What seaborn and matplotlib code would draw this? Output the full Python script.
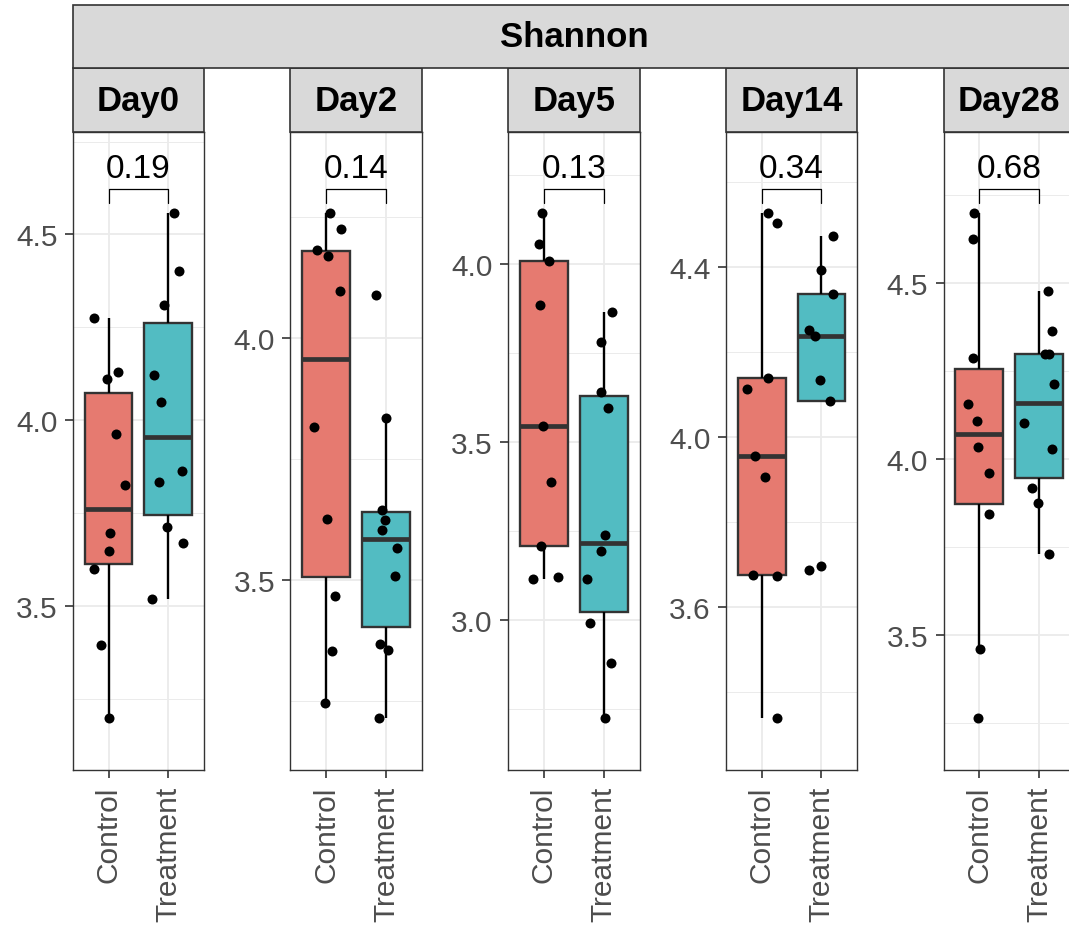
import numpy as np
import pandas as pd
import matplotlib
matplotlib.use("Agg")
import matplotlib.pyplot as plt
import matplotlib.transforms as mtransforms
from matplotlib.patches import Rectangle
from matplotlib.ticker import MultipleLocator
import seaborn as sns

# ---------------- data ----------------
days = ["Day0", "Day2", "Day5", "Day14", "Day28"]
groups = ["Control", "Treatment"]
p_values = ["0.19", "0.14", "0.13", "0.34", "0.68"]
metric = "Shannon"

day0_control = [4.276, 4.131, 4.111, 3.962, 3.826, 3.696, 3.648, 3.601, 3.396, 3.198]
day0_treatment = [4.557, 4.402, 4.309, 4.123, 4.048, 3.864, 3.834, 3.714, 3.670, 3.519]
day2_control = [4.257, 4.225, 4.182, 4.168, 4.096, 3.817, 3.626, 3.468, 3.353, 3.247]
day2_treatment = [4.088, 3.835, 3.645, 3.625, 3.603, 3.566, 3.508, 3.368, 3.355, 3.215]
day5_control = [4.143, 4.056, 4.008, 3.886, 3.546, 3.389, 3.209, 3.123, 3.116]
day5_treatment = [3.867, 3.783, 3.641, 3.597, 3.241, 3.195, 3.117, 2.994, 2.879, 2.725]
day14_control = [4.527, 4.505, 4.138, 4.113, 3.955, 3.905, 3.675, 3.672, 3.337]
day14_treatment = [4.473, 4.393, 4.337, 4.252, 4.237, 4.135, 4.084, 3.696, 3.686]
day28_control = [4.698, 4.624, 4.288, 4.157, 4.108, 4.034, 3.961, 3.844, 3.460, 3.263]
day28_treatment = [4.478, 4.363, 4.299, 4.297, 4.214, 4.102, 4.027, 3.918, 3.876, 3.729]

y_tick_steps = [0.5, 0.5, 0.5, 0.4, 0.5]

control_values = [day0_control, day2_control, day5_control, day14_control, day28_control]
treatment_values = [day0_treatment, day2_treatment, day5_treatment, day14_treatment, day28_treatment]

rows = []
for d, c, t in zip(days, control_values, treatment_values):
    rows += [(d, "Control", v) for v in c]
    rows += [(d, "Treatment", v) for v in t]
df = pd.DataFrame(rows, columns=["day", "group", "value"])

# ---------------- style ----------------
sns.set_theme(style="white")
plt.rcParams["font.family"] = ["Liberation Sans", "DejaVu Sans"]

palette = {"Control": "#E67A70", "Treatment": "#52BCC2"}
edge = "#333333"
grid_c = "#EBEBEB"

W, H = 1069, 928
fig = plt.figure(figsize=(W / 100, H / 100), dpi=100)

panel_left0 = 72.7
panel_step = 217.7
panel_w = 131.5
panel_top = 133
panel_bottom = 771
strip_top = 69
title_top = 6

np.random.seed(7)

for i, day in enumerate(days):
    left = panel_left0 + i * panel_step
    ax = fig.add_axes([left / W, (H - panel_bottom) / H, panel_w / W,
                       (panel_bottom - panel_top) / H])
    sub = df[df["day"] == day]

    sns.boxplot(data=sub, x="group", y="value", hue="group", order=groups,
                hue_order=groups, palette=palette, saturation=1, width=0.8,
                showfliers=False, linewidth=1.7, linecolor=edge, legend=False, ax=ax,
                whis=1.5,
                medianprops=dict(linewidth=3.4, color=edge),
                whiskerprops=dict(linewidth=1.7, color="black"),
                capprops=dict(visible=False), zorder=2)
    sns.stripplot(data=sub, x="group", y="value", order=groups, color="black",
                  jitter=0.28, size=7.2, ax=ax, zorder=3)

    vmin, vmax = sub["value"].min(), sub["value"].max()
    span = (vmax - vmin) / 0.7916
    lo = vmin - 0.081 * span
    ax.set_ylim(lo, lo + span)
    ax.set_xlim(-0.6, 1.6)

    step = y_tick_steps[i]
    ax.yaxis.set_major_locator(MultipleLocator(step))
    ax.yaxis.set_minor_locator(MultipleLocator(step / 2))
    ax.yaxis.set_major_formatter(matplotlib.ticker.FormatStrFormatter("%.1f"))

    ax.set_axisbelow(True)
    ax.grid(True, which="major", color=grid_c, linewidth=1.3)
    ax.grid(True, which="minor", axis="y", color=grid_c, linewidth=0.7)

    ax.set_xlabel("")
    ax.set_ylabel("")
    ax.tick_params(axis="both", which="major", length=6, width=1.2, color=edge,
                   labelsize=21.5, labelcolor="#4D4D4D", pad=5, left=True, bottom=True)
    ax.tick_params(axis="y", which="minor", length=0)
    ax.tick_params(axis="x", labelrotation=90)
    for s in ax.spines.values():
        s.set_color(edge)
        s.set_linewidth(1.0)
        s.set_visible(True)
    ax.set_facecolor("white")

    # p-value bracket
    trans = mtransforms.blended_transform_factory(ax.transData, ax.transAxes)
    ax.plot([0, 0, 1, 1], [0.889, 0.911, 0.911, 0.889], color="black",
            linewidth=0.9, transform=trans, clip_on=False, zorder=4)
    ax.text(0.5, 0.919, p_values[i], transform=trans, ha="center", va="bottom",
            fontsize=24, color="black")

    # day strip
    fig.patches.append(Rectangle((left / W, (H - panel_top) / H), panel_w / W,
                                 (panel_top - strip_top) / H, transform=fig.transFigure,
                                 facecolor="#D9D9D9", edgecolor=edge, linewidth=1.2))
    fig.text((left + panel_w / 2) / W, (H - (panel_top + strip_top) / 2) / H, day,
             ha="center", va="center", fontsize=25, fontweight="bold", color="black")

# top strip
right_edge = panel_left0 + 4 * panel_step + panel_w
fig.patches.append(Rectangle((panel_left0 / W, (H - strip_top) / H),
                             (right_edge - panel_left0) / W, (strip_top - title_top) / H,
                             transform=fig.transFigure, facecolor="#D9D9D9",
                             edgecolor=edge, linewidth=1.2))
fig.text(((panel_left0 + right_edge) / 2) / W, (H - (strip_top + title_top) / 2) / H,
         metric, ha="center", va="center", fontsize=25, fontweight="bold", color="black")

fig.savefig("out.png", dpi=100, facecolor="white")
